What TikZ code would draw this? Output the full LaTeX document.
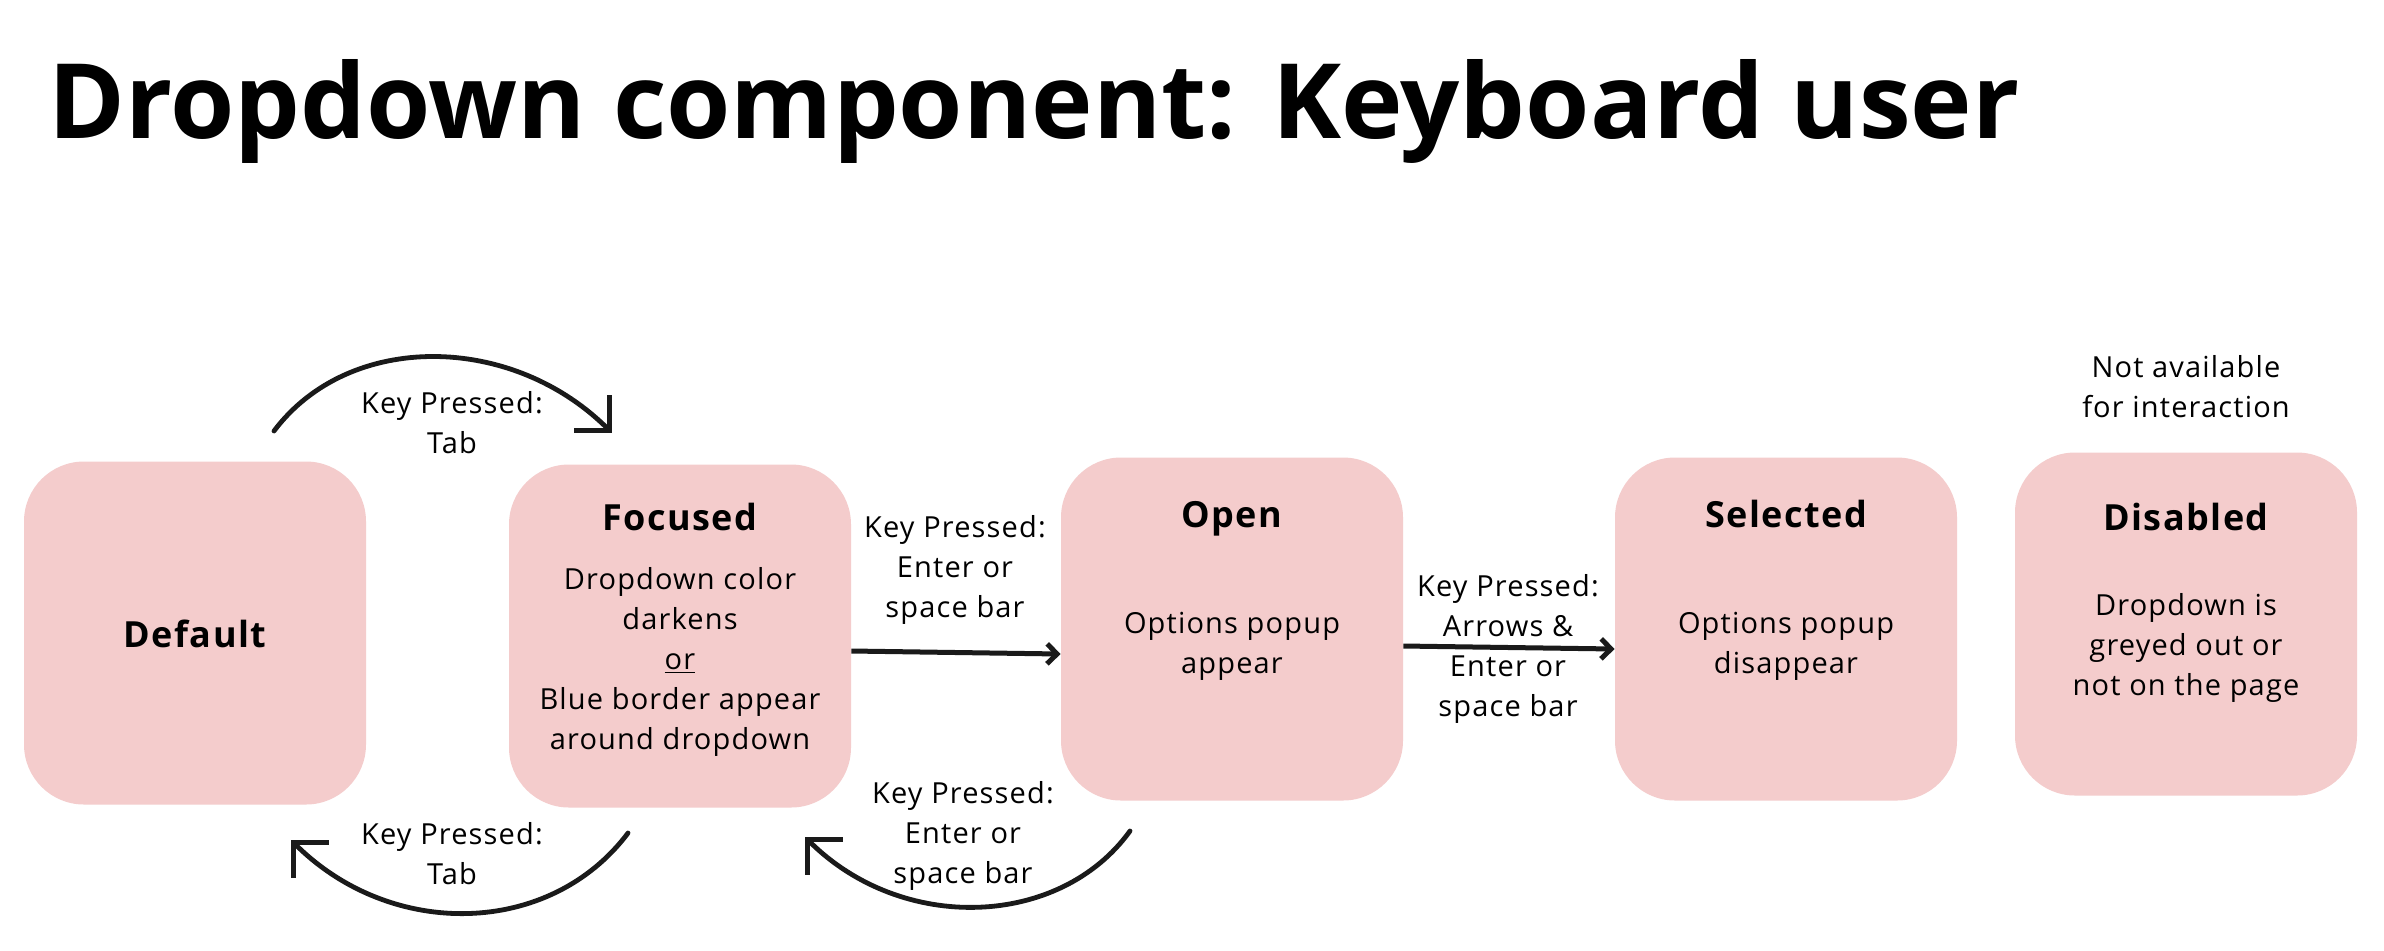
\documentclass[tikz,border=0pt]{standalone}
\usepackage{fontspec}
\setmainfont{Open Sans}
\newfontfamily\bodyfont{Open Sans}[LetterSpace=4]
\usetikzlibrary{arrows.meta}
\definecolor{boxpink}{HTML}{F4CCCC}
\definecolor{ink}{HTML}{1A1A1A}
\tikzset{
  box/.style={fill=boxpink, rounded corners=30pt, minimum width=171pt, minimum height=171.5pt, inner sep=0pt, draw=none},
  boxtitle/.style={anchor=base, font=\bodyfont\bfseries\fontsize{18}{21}\selectfont, inner sep=0pt},
  body/.style={anchor=base, align=center, font=\bodyfont\fontsize{14.5}{20}\selectfont, inner sep=0pt},
  flow/.style={draw=ink, line width=2.5pt, -{Straight Barb[length=5pt,width=10pt]}},
  loopflow/.style={draw=ink, line width=2.4pt, line cap=round, -{Straight Barb[length=12.5pt,width=25pt]}},
}
\begin{document}
\begin{tikzpicture}[x=0.5pt,y=-0.5pt]
\useasboundingbox (0,0) rectangle (2384,950);
\fill[white] (0,0) rectangle (2384,950);

\node[anchor=base west, inner sep=0pt, font=\bfseries\fontsize{52}{60}\selectfont] (title) at (48,138) {Dropdown component: Keyboard user};

% boxes
\node[box] (default) at (195,633) {};
\node[box] (focused) at (680,636) {};
\node[box] (open) at (1232,629) {};
\node[box] (selected) at (1786,629) {};
\node[box] (disabled) at (2186,624) {};

% box texts (multi-line nodes: base = last line)
\node[boxtitle] (defaultT) at (195,647) {Default};
\node[boxtitle] (focusedT) at (680,530) {Focused};
\node[body] (focusedB) at (680,749) {Dropdown color\\darkens\\\underline{or}\\Blue border appear\\around dropdown};
\node[boxtitle] (openT) at (1232,527) {Open};
\node[body] (openB) at (1232,673) {Options popup\\appear};
\node[boxtitle] (selectedT) at (1786,527) {Selected};
\node[body] (selectedB) at (1786,673) {Options popup\\disappear};
\node[boxtitle] (disabledT) at (2186,530) {Disabled};
\node[body] (disabledB) at (2186,695) {Dropdown is\\greyed out or\\not on the page};
\node[body] (notavail) at (2186,417) {Not available\\for interaction};

% straight arrows
\draw[flow] ([yshift=-7.5pt]focused.east) -- ([yshift=-12.5pt]open.west);
\draw[flow] ([yshift=-8.5pt]open.east) -- ([yshift=-10pt]selected.west);
\node[body] (lab2) at (955,617) {Key Pressed:\\Enter or\\space bar};
\node[body] (lab3) at (1508,716) {Key Pressed:\\Arrows \&\\Enter or\\space bar};

% curved arrows
\coordinate (a1s) at (274,431);
\coordinate (a1e) at (612,433);
\draw[loopflow] (a1s) .. controls (349,331) and (512,333) .. (a1e);
\node[body] (lab1) at (452,453) {Key Pressed:\\Tab};

\coordinate (a2s) at (628,833);
\coordinate (a2e) at (291,840);
\draw[loopflow] (a2s) .. controls (550,937) and (391,940) .. (a2e);
\node[body] (lab4) at (452,884) {Key Pressed:\\Tab};

\coordinate (a3s) at (1130,831);
\coordinate (a3e) at (805,837);
\draw[loopflow] (a3s) .. controls (1060,928) and (902,934) .. (a3e);
\node[body] (lab5) at (963,883) {Key Pressed:\\Enter or\\space bar};
\end{tikzpicture}
\end{document}
